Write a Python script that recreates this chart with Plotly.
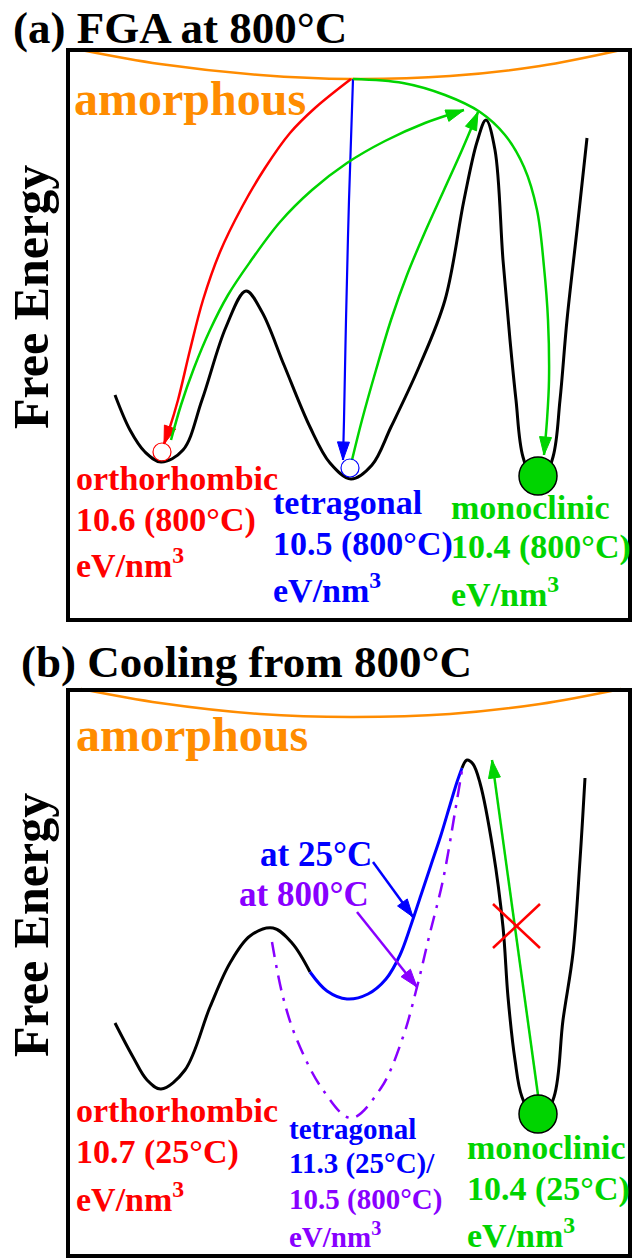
import math
import plotly.graph_objects as go

W, H = 632, 1259
FONT = "Liberation Serif, Times New Roman, Times, DejaVu Serif, serif"

# ---------------- colours ----------------
ORANGE = "#ff8c00"
GREEN = "#00d400"
RED = "#ff0000"
BLUE = "#0000ff"
PURPLE = "#8800ff"

# ---------------- panel frames ----------------
frame_a = [68, 50, 630, 620]
frame_b = [68, 690, 630, 1256]

# ---------------- panel (a): FGA at 800 C ----------------
amorph_a_x = [81, 160, 260, 351, 450, 540, 621]
amorph_a_y = [50, 64, 75, 79, 76, 66, 50]

land_a_x = [115, 130, 145, 161, 183, 202, 226, 246, 262, 284, 310, 330, 351, 372, 391, 419, 445, 464, 477, 486,
            495, 503, 510, 516, 523, 538, 553, 560, 567, 577, 587]
land_a_y = [395, 430, 452, 462, 450, 400, 327, 291, 312, 365, 427, 463, 479, 465, 427, 367, 300, 200, 142, 120,
            150, 260, 340, 400, 457, 490, 457, 400, 320, 230, 138]

red_a_x = [351, 315, 290, 265, 242, 220, 203, 190, 178, 169, 164]
red_a_y = [79, 108, 133, 168, 207, 252, 300, 350, 400, 430, 444]

blue_a_x = [353, 349, 346, 344, 343]
blue_a_y = [79, 200, 320, 420, 460]

green1_a_x = [171, 181, 194, 210, 228, 250, 280, 312, 347, 385, 425, 464]
green1_a_y = [440, 405, 368, 330, 295, 262, 222, 190, 163, 141, 123, 110]

green2_a_x = [352, 362, 376, 391, 407, 425, 444, 462, 478]
green2_a_y = [460, 420, 370, 320, 275, 232, 190, 150, 112]

green3_a_x = [353, 403, 445, 480, 505, 524, 537, 544, 548, 549, 547, 544]
green3_a_y = [79, 83, 95, 112, 135, 167, 210, 267, 320, 380, 420, 455]

ortho_a_dot = (162, 452)
tetra_a_dot = (350, 468)
mono_a_dot = (538, 476)

# ---------------- panel (b): cooling from 800 C ----------------
amorph_b_x = [81, 160, 260, 351, 450, 540, 621]
amorph_b_y = [689, 703, 714, 717, 714, 704, 689]

land_b_left_x = [115, 133, 147, 161, 185, 210, 230, 250, 273, 292, 310]
land_b_left_y = [1023, 1057, 1080, 1089, 1070, 1007, 963, 936, 928, 943, 972]

land_b_t25_x = [310, 327, 347, 368, 386, 400, 411, 421, 431, 441, 450, 457, 462]
land_b_t25_y = [972, 991, 999, 994, 979, 955, 925, 895, 865, 835, 805, 782, 768]

land_b_right_x = [462, 467, 473, 480, 493, 503, 508, 515, 522, 538, 554, 563, 573, 580, 585]
land_b_right_y = [768, 760, 764, 783, 850, 927, 997, 1060, 1097, 1125, 1097, 1020, 953, 860, 778]

t800_b_x = [272, 283, 297, 323, 351, 381, 403, 417, 429, 443, 455, 462]
t800_b_y = [942, 997, 1040, 1090, 1118, 1088, 1037, 987, 937, 880, 812, 770]

arrow25_b_x = [373, 413]
arrow25_b_y = [862, 917]
arrow800_b_x = [357, 417]
arrow800_b_y = [912, 987]

green_b_x = [538, 492]
green_b_y = [1095, 760]

cross_b_x = [493, 540]
cross_b_y = [904, 948]

mono_b_dot = (538, 1114)

fig = go.Figure()


def curve(xs, ys, color, width, dash=None):
    fig.add_trace(go.Scatter(x=xs, y=ys, mode="lines", hoverinfo="skip", showlegend=False,
                             line=dict(color=color, width=width, shape="spline", smoothing=1.0,
                                       dash=dash)))


def head(xs, ys, color, L=18, hw=6):
    x1, y1 = xs[-1], ys[-1]
    x0, y0 = xs[-2], ys[-2]
    dx, dy = x1 - x0, y1 - y0
    n = math.hypot(dx, dy)
    ux, uy = dx / n, dy / n
    bx, by = x1 - ux * L, y1 - uy * L
    px, py = -uy, ux
    fig.add_trace(go.Scatter(
        x=[x1, bx + px * hw, bx - px * hw, x1], y=[y1, by + py * hw, by - py * hw, y1],
        mode="lines", fill="toself", fillcolor=color, line=dict(color=color, width=1),
        hoverinfo="skip", showlegend=False))


def dot(pt, size, fill, edge, ew, open_=False):
    fig.add_trace(go.Scatter(
        x=[pt[0]], y=[pt[1]], mode="markers", hoverinfo="skip", showlegend=False,
        marker=dict(size=size, symbol="circle-open" if open_ else "circle",
                    color=edge if open_ else fill, line=dict(color=edge, width=ew))))


# panel (a)
curve(amorph_a_x, amorph_a_y, ORANGE, 2.5)
curve(land_a_x, land_a_y, "black", 3)
curve(red_a_x, red_a_y, RED, 2.5)
head(red_a_x, red_a_y, RED)
curve(blue_a_x, blue_a_y, BLUE, 2.2)
head(blue_a_x, blue_a_y, BLUE)
curve(green1_a_x, green1_a_y, GREEN, 2.5)
head(green1_a_x, green1_a_y, GREEN)
curve(green2_a_x, green2_a_y, GREEN, 2.5)
head(green2_a_x, green2_a_y, GREEN)
curve(green3_a_x, green3_a_y, GREEN, 2.5)
head(green3_a_x, green3_a_y, GREEN)
dot(ortho_a_dot, 18, "white", RED, 1.2, open_=True)
dot(tetra_a_dot, 18, "white", BLUE, 1.2, open_=True)
dot(mono_a_dot, 38, GREEN, "black", 1.5)

# panel (b)
curve(amorph_b_x, amorph_b_y, ORANGE, 2.5)
curve(land_b_left_x, land_b_left_y, "black", 3)
curve(land_b_t25_x, land_b_t25_y, BLUE, 3)
curve(land_b_right_x, land_b_right_y, "black", 3)
curve(t800_b_x, t800_b_y, PURPLE, 2.5, dash="15px,8px,3px,8px")
curve(arrow25_b_x, arrow25_b_y, BLUE, 2.5)
head(arrow25_b_x, arrow25_b_y, BLUE)
curve(arrow800_b_x, arrow800_b_y, PURPLE, 2.5)
head(arrow800_b_x, arrow800_b_y, PURPLE)
curve(green_b_x, green_b_y, GREEN, 2.5)
head(green_b_x, green_b_y, GREEN)
curve(cross_b_x, cross_b_y, RED, 2.5)
curve(cross_b_x, cross_b_y[::-1], RED, 2.5)
dot(mono_b_dot, 38, GREEN, "black", 1.5)

# frames
for fr in (frame_a, frame_b):
    fig.add_shape(type="rect", x0=fr[0], y0=fr[1], x1=fr[2], y1=fr[3], xref="x", yref="y",
                  line=dict(color="black", width=4), layer="above")


def text(x, baseline, s, color, size, anchor="left"):
    fig.add_annotation(x=x, y=baseline + 0.22 * size, text=s, showarrow=False, xref="x", yref="y",
                       xanchor=anchor, yanchor="bottom", borderpad=0,
                       font=dict(family=FONT, size=size, color=color, weight="bold"))


# titles
text(12, 44, "(a) FGA at 800°C", "black", 45)
text(20, 678, "(b) Cooling from 800°C", "black", 45)

# amorphous
text(73, 115, "amorphous", ORANGE, 48)
text(75, 751, "amorphous", ORANGE, 48)

# y labels
for cy in (297, 925):
    fig.add_annotation(x=31, y=cy, text="Free Energy", showarrow=False, xref="x", yref="y",
                       textangle=-90, xanchor="center", yanchor="middle",
                       font=dict(family=FONT, size=50, color="black", weight="bold"))

# panel (a) labels
text(75, 491, "orthorhombic", RED, 34)
text(75, 533, "10.6 (800°C)", RED, 34)
text(75, 578, "eV/nm<sup>3</sup>", RED, 34)
text(272, 515, "tetragonal", BLUE, 34)
text(272, 557, "10.5 (800°C)", BLUE, 34)
text(272, 603, "eV/nm<sup>3</sup>", BLUE, 34)
text(450, 520, "monoclinic", GREEN, 34)
text(450, 560, "10.4 (800°C)", GREEN, 34)
text(450, 607, "eV/nm<sup>3</sup>", GREEN, 34)

# panel (b) labels
text(373, 867, "at 25°C", BLUE, 35, anchor="right")
text(370, 907, "at 800°C", PURPLE, 35, anchor="right")
text(75, 1123, "orthorhombic", RED, 34)
text(75, 1165, "10.7 (25°C)", RED, 34)
text(75, 1212, "eV/nm<sup>3</sup>", RED, 34)
text(288, 1140, "tetragonal", BLUE, 29)
text(288, 1175, "11.3 (25°C)/", BLUE, 29)
text(288, 1211, "10.5 (800°C)", PURPLE, 29)
text(288, 1248, "eV/nm<sup>3</sup>", PURPLE, 29)
text(466, 1160, "monoclinic", GREEN, 34)
text(466, 1202, "10.4 (25°C)", GREEN, 34)
text(466, 1248, "eV/nm<sup>3</sup>", GREEN, 34)

fig.update_layout(
    width=W, height=H, margin=dict(l=0, r=0, t=0, b=0), autosize=False,
    paper_bgcolor="white", plot_bgcolor="white", showlegend=False,
    xaxis=dict(range=[0, W], visible=False, fixedrange=True),
    yaxis=dict(range=[H, 0], visible=False, fixedrange=True),
)

fig.write_html(
    "out.html",
    config={"responsive": False, "displayModeBar": False},
    post_script="document.body.style.margin='0';document.body.style.padding='0';"
                "document.body.style.overflow='hidden';",
)
